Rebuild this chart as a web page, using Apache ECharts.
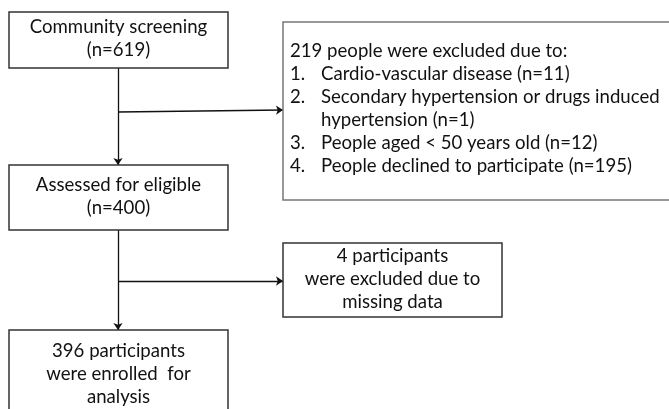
<!DOCTYPE html>
<html><head><meta charset="utf-8">
<script src="https://cdn.jsdelivr.net/npm/echarts@6/dist/echarts.min.js"></script>
<style>html,body{margin:0;padding:0;background:#fff}#c{width:669px;height:409px}</style>
</head><body><div id="c"></div>
<script>
// ---- data ----
var screened = 619;
var excluded = 219;
var exclusionReasons = ['Cardio-vascular disease', 'Secondary hypertension or drugs induced', 'People aged < 50 years old', 'People declined to participate'];
var exclusionCounts = [11, 1, 12, 195];
var assessed = 400;
var missing = 4;
var enrolled = 396;

// ---- layout (data-space coordinates of the canvas) ----
var boxes = [
  {id:'screen', x0:9, y0:12, x1:228, y1:68, lines:['Community screening', '(n=' + screened + ')'], color:'#333'},
  {id:'excl1', x0:283, y0:22, x1:700, y1:200, list:true, color:'#777'},
  {id:'assess', x0:9, y0:165, x1:228, y1:230, lines:['Assessed for eligible', '(n=' + assessed + ')'], color:'#333'},
  {id:'excl2', x0:283, y0:243, x1:502, y1:317, lines:[missing + ' participants', 'were excluded due to', 'missing data'], color:'#333'},
  {id:'enrol', x0:9, y0:330, x1:228, y1:440, lines:[enrolled + ' participants', 'were enrolled  for', 'analysis'], color:'#333'}
];
var arrows = [
  [[118,68],[118,165]],
  [[118,112],[283,110]],
  [[118,230],[118,330]],
  [[118,281],[283,281]]
];

var FONT = 'Lato, "Open Sans", sans-serif';
var FS = 18.6;
var LH = 23;

function renderBox(params, api) {
  var b = boxes[params.dataIndex];
  var p0 = api.coord([b.x0, b.y0]);
  var p1 = api.coord([b.x1, b.y1]);
  var children = [{
    type:'rect',
    shape:{x:p0[0], y:p0[1], width:p1[0]-p0[0], height:p1[1]-p0[1]},
    style:{fill:'#fff', stroke:b.color, lineWidth:1.5}
  }];
  if (b.list) {
    var lx = p0[0] + 7, ix = p0[0] + 38;
    var top = p0[1] + 29;
    var rows = [
      {n:'', t: excluded + ' people were excluded due to:', x: lx},
      {n:'1.', t: exclusionReasons[0] + ' (n=' + exclusionCounts[0] + ')'},
      {n:'2.', t: exclusionReasons[1]},
      {n:'', t: 'hypertension (n=' + exclusionCounts[1] + ')'},
      {n:'3.', t: exclusionReasons[2] + ' (n=' + exclusionCounts[2] + ')'},
      {n:'4.', t: exclusionReasons[3] + ' (n=' + exclusionCounts[3] + ')'}
    ];
    rows.forEach(function(r, i){
      var y = top + i*LH;
      if (r.n) children.push({type:'text', style:{text:r.n, x:lx, y:y, font:FS+'px '+FONT, fill:'#111', verticalAlign:'middle'}});
      children.push({type:'text', style:{text:r.t, x:(r.x!=null?r.x:ix), y:y, font:FS+'px '+FONT, fill:'#111', verticalAlign:'middle'}});
    });
  } else {
    var cx = (p0[0]+p1[0])/2;
    var n = b.lines.length;
    var startY;
    if (b.id === 'enrol') startY = p0[1] + 21;
    else startY = p0[1] + (p1[1]-p0[1])/2 - (n-1)*LH/2 - 1.5;
    b.lines.forEach(function(t, i){
      children.push({type:'text', style:{text:t, x:cx, y:startY + i*LH, font:FS+'px '+FONT, fill:'#111', align:'center', verticalAlign:'middle'}});
    });
  }
  return {type:'group', children:children};
}

var chart = echarts.init(document.getElementById('c'), null, {renderer:'canvas'});
chart.setOption({
  animation:false,
  backgroundColor:'#fff',
  grid:{left:0, right:0, top:0, bottom:0},
  xAxis:{type:'value', min:0, max:669, show:false},
  yAxis:{type:'value', min:0, max:409, inverse:true, show:false},
  series:[
    {
      type:'lines', coordinateSystem:'cartesian2d', z:1,
      symbol:['none','arrow'], symbolSize:7,
      lineStyle:{color:'#111', width:1.3, opacity:1},
      data: arrows.map(function(a){ return {coords:a}; })
    },
    {
      type:'custom', z:2, clip:false,
      renderItem: renderBox,
      data: boxes.map(function(b, i){ return [b.x0, b.y0]; })
    }
  ]
});
</script></body></html>
